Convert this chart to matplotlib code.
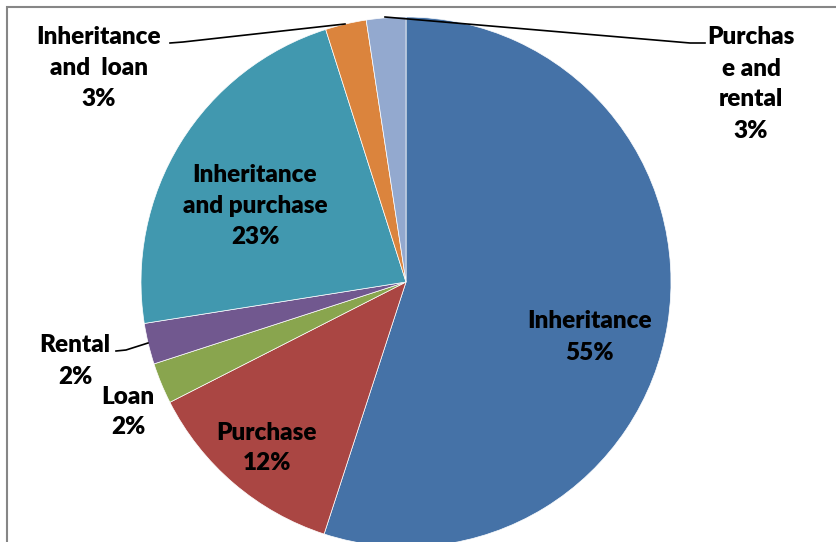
import matplotlib
matplotlib.use('Agg')
from matplotlib import pyplot as plt
from matplotlib.patches import Rectangle

#--- data

categories = ['Inheritance', 'Purchase', 'Loan', 'Rental',
              'Inheritance and purchase', 'Inheritance and loan',
              'Purchase and rental']
shares = [55.0, 12.5, 2.5, 2.5, 22.6, 2.5, 2.4]
pct_labels = ['55%', '12%', '2%', '2%', '23%', '3%', '3%']
colors = ['#4572A7', '#AA4643', '#89A54E', '#71588F',
          '#4198AF', '#DB843D', '#93A9CF']

W, H = 836, 542
plt.rcParams['font.family'] = ['Lato', 'DejaVu Sans']


def py(y):
    # pixel row (from top) -> data y (from bottom)
    return H - y


fig = plt.figure(figsize=(W / 100, H / 100), dpi=100)
ax = fig.add_axes([0, 0, 1, 1])

# chart frame (only top/left visible in the crop)
ax.add_patch(Rectangle((7, py(900)), 1000, 893, fill=False,
                       edgecolor='#868686', linewidth=1.5, clip_on=False))

wedges, _ = ax.pie(shares, colors=colors, startangle=90, counterclock=False,
                   center=(406, py(282)), radius=265, frame=True,
                   wedgeprops=dict(edgecolor='white', linewidth=0.5))
ax.set_xlim(0, W)
ax.set_ylim(0, H)
ax.set_aspect('equal')
ax.axis('off')

#--- labels

label_text = ['Inheritance', 'Purchase', 'Loan', 'Rental',
              'Inheritance\nand purchase', 'Inheritance\nand  loan',
              'Purchas\ne and\nrental']
label_pos = [(590, 337), (267, 448), (128, 412), (75, 361),
             (255, 206), (99, 68), (751, 84)]
for txt, pct, (x, y) in zip(label_text, pct_labels, label_pos):
    ax.text(x, py(y), txt + '\n' + pct, ha='center', va='center',
            fontsize=17.5, fontweight='heavy', color='black',
            linespacing=1.5)

# leader lines
leaders = [
    [(170, 43), (183, 42), (345, 24)],
    [(385, 17), (690, 43), (705, 43)],
    [(116, 351), (126, 350), (148, 343)],
]
for pts in leaders:
    xs = [p[0] for p in pts]
    ys = [py(p[1]) for p in pts]
    ax.plot(xs, ys, color='black', linewidth=1.2)

plt.savefig('out.png', dpi=100)
plt.close()
